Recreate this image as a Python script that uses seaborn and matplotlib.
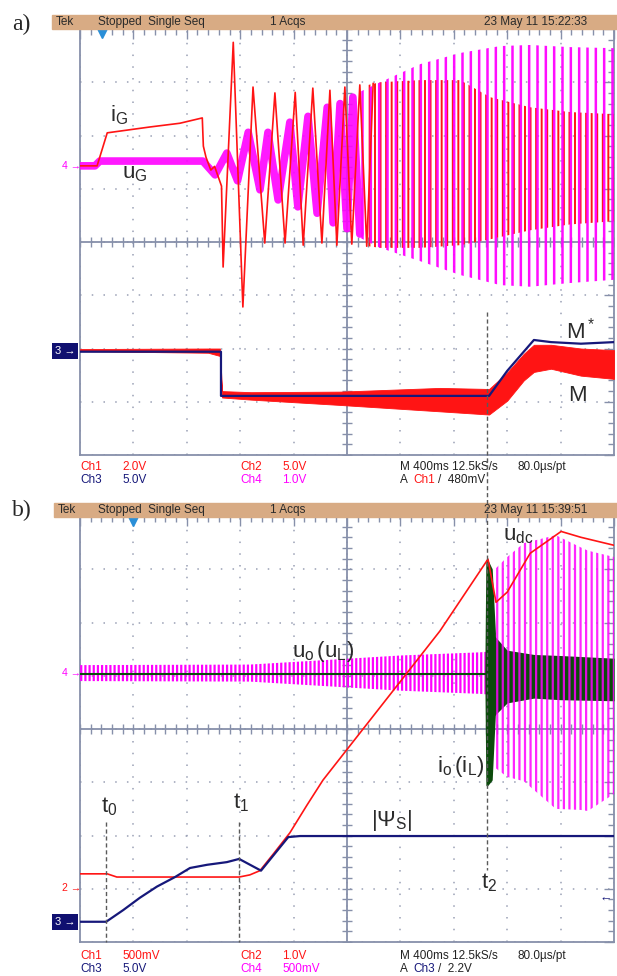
import numpy as np
import matplotlib
matplotlib.use("Agg")
import matplotlib.pyplot as plt
from matplotlib.lines import Line2D
import seaborn as sns

sns.set_style("white")
plt.rcParams["font.family"] = ["Liberation Sans", "DejaVu Sans"]
plt.rcParams["mathtext.fontset"] = "custom"
plt.rcParams["mathtext.rm"] = "Liberation Sans"
plt.rcParams["mathtext.it"] = "Liberation Sans:italic"

# ---- data, in scope divisions (x: 0..10, y: -4..4) ----
# panel a
ig_x = [0, 0.32, 0.51, 1.31, 1.87, 2.29, 2.31, 2.36, 2.45, 2.52, 2.58, 2.65, 2.68, 2.87, 3.05,
        3.24, 3.46, 3.65, 3.84, 4.03, 4.18, 4.36, 4.53, 4.68, 4.81, 4.96, 5.09, 5.24, 5.37, 5.49]
ig_y = [1.43, 1.43, 2.05, 2.16, 2.23, 2.33, 1.80, 1.59, 1.35, 1.42, 1.25, 1.05, -0.47, 3.75, -1.22,
        2.91, -0.02, 2.80, -0.02, 2.81, -0.06, 2.89, -0.02, 2.85, -0.06, 2.91, -0.04, 2.95, -0.08, 2.98]
ig_env_x = [5.40, 5.62, 6.37, 7.12, 7.68, 8.43, 9.18, 10.0]
ig_env_hi = [2.95, 3.00, 3.04, 3.04, 2.72, 2.53, 2.44, 2.40]
ig_env_lo = [-0.08, -0.11, -0.11, -0.06, 0.05, 0.22, 0.33, 0.39]

ug_x = [0, 0.28, 0.37, 2.30, 2.53, 2.75, 2.95, 3.15, 3.37, 3.52, 3.71, 3.93, 4.08, 4.27, 4.44,
        4.63, 4.74, 4.87, 5.00, 5.11, 5.24]
ug_y = [1.43, 1.43, 1.52, 1.52, 1.26, 1.67, 1.15, 2.06, 0.98, 2.06, 0.79, 2.25, 0.66, 2.36, 0.54,
        2.53, 0.36, 2.60, 0.25, 2.72, 0.15]
ug_env_x = [5.20, 5.62, 6.37, 7.12, 7.87, 8.43, 9.18, 10.0]
ug_env_hi = [2.80, 3.00, 3.34, 3.55, 3.68, 3.70, 3.66, 3.64]
ug_env_lo = [0.10, -0.11, -0.36, -0.62, -0.81, -0.84, -0.77, -0.71]

ms_x = [0, 2.64, 2.64, 7.66, 8.00, 8.31, 8.50, 8.82, 9.38, 10.0]
ms_y = [-2.06, -2.06, -2.89, -2.89, -2.42, -2.06, -1.84, -1.88, -1.91, -1.88]

m_env_x = [0, 2.40, 2.62, 2.66, 3.20, 4.87, 6.74, 7.66, 8.00, 8.31, 8.50, 8.82, 9.38, 10.0]
m_env_hi = [-2.01, -2.00, -2.00, -2.80, -2.82, -2.81, -2.74, -2.76, -2.45, -2.10, -1.93, -1.93, -2.00, -2.03]
m_env_lo = [-2.05, -2.08, -2.14, -2.92, -2.96, -3.06, -3.18, -3.24, -2.98, -2.60, -2.44, -2.38, -2.51, -2.57]

# panel b
udc_x = [0, 0.51, 0.69, 2.98, 3.18, 3.37, 3.61, 3.93, 4.25, 4.55, 6.74, 7.64, 7.79, 8.00, 8.43, 9.01, 9.38, 10.0]
udc_y = [-2.72, -2.72, -2.78, -2.78, -2.74, -2.66, -2.36, -1.95, -1.43, -0.96, 1.84, 3.19, 2.38, 2.57, 3.30, 3.71, 3.60, 3.45]

psi_x = [0, 0.49, 0.81, 1.12, 1.44, 1.78, 2.06, 2.38, 2.75, 2.98, 3.39, 3.90, 4.12, 10.0]
psi_y = [-3.62, -3.62, -3.40, -3.17, -2.96, -2.78, -2.61, -2.55, -2.50, -2.44, -2.66, -2.03, -2.01, -2.01]

uo_x = [0, 3.18, 4.68, 5.99, 7.49, 7.62]
uo_hi = [1.20, 1.21, 1.30, 1.38, 1.44, 1.45]
uo_lo = [0.90, 0.89, 0.80, 0.72, 0.66, 0.65]
uo2_x = [7.75, 8.00, 8.31, 8.91, 9.38, 9.51, 10.0]
uo2_hi = [2.98, 3.23, 3.49, 3.64, 3.41, 3.35, 3.23]
uo2_lo = [-0.71, -0.90, -0.98, -1.50, -1.52, -1.54, -1.22]

io_x = [0, 7.60]
io_y = [1.03, 1.03]
io_burst_x = [7.60, 7.62, 7.70, 7.76]
io_burst_hi = [1.05, 3.17, 3.00, 1.80]
io_burst_lo = [1.05, -1.05, -0.95, 0.30]
io_band_x = [7.76, 8.00, 8.50, 9.00, 10.0]
io_band_hi = [1.75, 1.48, 1.40, 1.38, 1.33]
io_band_lo = [0.25, 0.49, 0.58, 0.55, 0.53]

# ---- styles ----
W, H = 617, 976
RED = "#ff1414"
MAG = "#ff00ff"
BLUE = "#16187a"
GREEN = "#0b4a0b"
FRAME = "#8790aa"
DOT = "#9aa0b5"
TAN = "#d8ab84"
LBL = "#2b2b2b"


def fx(px):
    return px / W


def fy(py):
    return 1 - py / H


def scope_axes(top):
    ax = fig.add_axes([fx(80), fy(top + 426), 534 / W, 426 / H])
    ax.set_xlim(0, 10)
    ax.set_ylim(-4, 4)
    ax.set_xticks(range(11))
    ax.set_yticks(range(-4, 5))
    ax.set_xticks(np.arange(0, 10.01, 0.2), minor=True)
    ax.set_yticks(np.arange(-4, 4.01, 0.2), minor=True)
    ax.tick_params(which="both", direction="in", top=True, right=True,
                   labelbottom=False, labelleft=False, color=FRAME, width=1)
    ax.tick_params(which="major", length=7)
    ax.tick_params(which="minor", length=4)
    for s in ax.spines.values():
        s.set_color(FRAME)
        s.set_linewidth(1.3)
    ax.grid(True, which="major", color=DOT, linestyle=(0, (1.0, 6.68)), linewidth=1.1)
    ax.axhline(0, color=FRAME, lw=1.3, zorder=1)
    ax.axvline(5, color=FRAME, lw=1.3, zorder=1)
    cx = np.arange(0, 10.01, 0.2)
    cy = np.arange(-4, 4.01, 0.2)
    ax.plot(cx, np.zeros_like(cx), ls="none", marker="|", ms=7, mew=1, color=FRAME, zorder=1)
    ax.plot(np.full_like(cy, 5), cy, ls="none", marker="_", ms=7, mew=1, color=FRAME, zorder=1)
    ax.set_xlabel("")
    ax.set_ylabel("")
    return ax


def trace(ax, xs, ys, color, lw, z, alpha=1.0):
    sns.lineplot(x=xs, y=ys, ax=ax, color=color, linewidth=lw, estimator=None,
                 sort=False, legend=False, zorder=z, alpha=alpha)


def stripes(ax, xs, lo, hi, color, hatch, lw, z, alpha=1.0):
    # dense oscillation drawn as a vertically striped envelope
    plt.rcParams["hatch.linewidth"] = lw
    ax.fill_between(xs, lo, hi, facecolor="none", edgecolor=color, hatch=hatch,
                    linewidth=0, zorder=z, alpha=alpha)


def header(top, stamp, x0):
    fig.patches.append(plt.Rectangle((fx(x0), fy(top + 14)), 1 - fx(x0), 14 / H,
                                     transform=fig.transFigure, color=TAN, zorder=0))
    yc = fy(top + 7)
    kw = dict(va="center", fontsize=8.5, color="#2a2a2a")
    fig.text(fx(x0 + 4), yc, "Tek", **kw)
    fig.text(fx(98), yc, "Stopped  Single Seq", **kw)
    fig.text(fx(270), yc, "1 Acqs", **kw)
    fig.text(fx(484), yc, stamp, **kw)


def footer(y1, rows):
    for i, row in enumerate(rows):
        for px, s, c in row:
            fig.text(fx(px), fy(y1 + 13 * i), s, va="center", fontsize=8.5, color=c)


def marker(y, label, color, boxed=False):
    if boxed:
        fig.text(fx(55), fy(y), label + " \u2192", va="center", ha="left", fontsize=8,
                 color="white", bbox=dict(boxstyle="square,pad=0.25", fc="#101070", ec="none"))
    else:
        fig.text(fx(62), fy(y), label + " \u2192", va="center", ha="left", fontsize=7.5, color=color)


def label(px, py, s, **kw):
    fig.text(fx(px), fy(py), s, va="baseline", fontsize=16, color=LBL, **kw)


def vdash(x, y0, y1):
    fig.add_artist(Line2D([fx(x), fx(x)], [fy(y0), fy(y1)], transform=fig.transFigure,
                          color="#5a5a5a", lw=1, ls=(0, (3, 2)), zorder=20))


fig = plt.figure(figsize=(W / 100, H / 100), dpi=100)

# ---------------- panel a ----------------
axa = scope_axes(29)
stripes(axa, ig_env_x, ig_env_lo, ig_env_hi, RED, "|||", 1.4, 3)
stripes(axa, ug_env_x, ug_env_lo, ug_env_hi, MAG, "||", 1.8, 4, alpha=0.95)
trace(axa, ug_x, ug_y, MAG, 5.5, 3, alpha=0.9)
trace(axa, ig_x, ig_y, RED, 1.2, 5)
axa.fill_between(m_env_x, m_env_lo, m_env_hi, color=RED, linewidth=0.6, zorder=4)
trace(axa, ms_x, ms_y, BLUE, 1.6, 6)
axa.plot([0.41], [3.95], marker="v", ms=8, color="#2a8fd8", clip_on=False, zorder=10)

header(15, "23 May 11 15:22:33", 52)
fig.text(fx(12), fy(24), "a)", va="center", fontsize=17, family="Liberation Serif")
marker(166, "4", MAG)
marker(351, "3", None, boxed=True)
label(110, 121, r"$\mathrm{i_G}$")
label(122, 178, r"$\mathrm{u_G}$")
label(566, 339, r"$\mathrm{M^*}$")
label(568, 401, r"$\mathrm{M}$")
footer(467, [
    [(80, "Ch1", RED), (122, "2.0V", RED), (240, "Ch2", RED), (282, "5.0V", RED),
     (400, "M 400ms 12.5kS/s", "#222222"), (517, "80.0\u00b5s/pt", "#222222")],
    [(80, "Ch3", BLUE), (122, "5.0V", BLUE), (240, "Ch4", MAG), (282, "1.0V", MAG),
     (400, "A", "#222222"), (413, "Ch1", RED), (438, "/  480mV", "#222222")],
])

# ---------------- panel b ----------------
axb = scope_axes(516)
stripes(axb, uo_x, uo_lo, uo_hi, MAG, "||||", 1.6, 3)
axb.fill_between(io_band_x, io_band_lo, io_band_hi, color=GREEN, linewidth=0, zorder=3)
stripes(axb, uo2_x, uo2_lo, uo2_hi, MAG, "|||", 1.6, 4, alpha=0.85)
axb.fill_between(io_burst_x, io_burst_lo, io_burst_hi, color=GREEN, linewidth=1.5, zorder=5)
trace(axb, io_x, io_y, GREEN, 1.5, 5)
trace(axb, udc_x, udc_y, RED, 1.2, 6)
trace(axb, psi_x, psi_y, BLUE, 1.6, 7)
axb.plot([1.0], [3.92], marker="v", ms=8, color="#2a8fd8", clip_on=False, zorder=10)

header(503, "23 May 11 15:39:51", 54)
fig.text(fx(12), fy(510), "b)", va="center", fontsize=17, family="Liberation Serif")
marker(673, "4", MAG)
marker(888, "2", RED)
marker(922, "3", None, boxed=True)
fig.text(fx(600), fy(899), "\u2190", va="center", fontsize=9, color=BLUE)
label(503, 540, r"$\mathrm{u_{dc}}$")
label(292, 657, r"$\mathrm{u_o\,(u_L)}$")
label(484, 772, r"$\mathrm{i_o\,(i_L)}$", ha="right")
label(101, 812, r"$\mathrm{t_0}$")
label(233, 808, r"$\mathrm{t_1}$")
label(371, 826, r"$\mathrm{|\Psi_S|}$")
label(481, 888, r"$\mathrm{t_2}$")
footer(956, [
    [(80, "Ch1", RED), (122, "500mV", RED), (240, "Ch2", RED), (282, "1.0V", RED),
     (400, "M 400ms 12.5kS/s", "#222222"), (517, "80.0\u00b5s/pt", "#222222")],
    [(80, "Ch3", BLUE), (122, "5.0V", BLUE), (240, "Ch4", MAG), (282, "500mV", MAG),
     (400, "A", "#222222"), (413, "Ch3", BLUE), (438, "/  2.2V", "#222222")],
])

vdash(487, 312, 870)
vdash(106, 822, 942)
vdash(239, 822, 942)

fig.savefig("out.png", dpi=100)
